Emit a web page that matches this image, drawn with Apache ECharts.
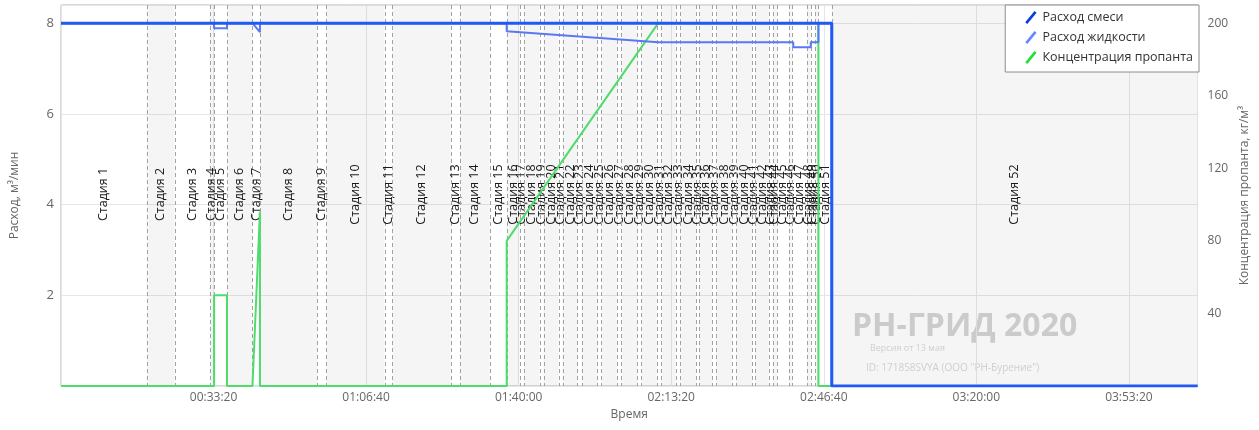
<!DOCTYPE html>
<html><head><meta charset="utf-8">
<script src="https://cdn.jsdelivr.net/npm/echarts@6/dist/echarts.min.js"></script>
<style>html,body{margin:0;padding:0;background:#fff}#c{width:1259px;height:430px}</style>
</head><body><div id="c"></div>
<script>
// Stage boundaries, seconds from start (52 stages)
const stageBounds = [0,1124,1490,1948,2007,2176,2510,2608,3359,3477,4242,4346,5111,5229,5621,5843,
  6013,6065,6275,6327,6523,6575,6771,6824,7033,7085,7294,7346,7556,7608,7817,7869,8065,8118,8327,8366,
  8536,8588,8797,8850,9059,9098,9281,9333,9386,9543,9582,9778,9830,9880,9930,10105,14900];
const stageNames = stageBounds.slice(1).map((_, i) => 'Стадия ' + (i + 1));
const seriesNames = ['Расход смеси', 'Расход жидкости', 'Концентрация пропанта'];
// [time s, value]
const slurryRate = [[0,8],[10105,8],[10105,0],[14900,0]];
const liquidRate = [[0,8],[2007,8],[2007,7.89],[2176,7.89],[2176,8],[2510,8],[2608,7.8],[2608,8],
  [5843,8],[5843,7.82],[7830,7.58],[9600,7.58],[9600,7.47],[9830,7.47],[9830,7.58],[9930,7.58],[9930,8],
  [10105,8],[10105,0],[14900,0]];
const proppantConc = [[0,0],[2007,0],[2007,50],[2176,50],[2176,0],[2510,0],[2608,96],[2608,0],
  [5843,0],[5843,80],[7830,200],[9930,200],[9930,0],[14900,0]];
const xTicks = [2000,4000,6000,8000,10000,12000,14000];
const leftTicks = [2,4,6,8];
const rightTicks = [40,80,120,160,200];

const FONT = '"Open Sans", "Noto Sans", sans-serif';
function hms(v){const h=Math.floor(v/3600),m=Math.floor(v%3600/60),s=Math.round(v%60);
  const p=n=>String(n).padStart(2,'0');return p(h)+':'+p(m)+':'+p(s);}

const stageData = stageNames.map((n,i)=>[stageBounds[i], stageBounds[i+1], i]);
const chart = echarts.init(document.getElementById('c'));
const slash = 'path://M0,11 L9,0 L11,1.6 L2,12.6 Z';
const legendColors = ['#0a3ce0','#6a86ff','#1fe03a'];
chart.setOption({
  animation:false,
  backgroundColor:'#fff',
  grid:{left:61,right:59,top:5,bottom:44,show:true,borderColor:'#b4b4b4',borderWidth:1,backgroundColor:'#fff'},
  legend:{
    data:seriesNames.map((n,i)=>({name:n, icon:slash, itemStyle:{color:legendColors[i], borderWidth:0}})),
    orient:'vertical', right:60, top:5,
    backgroundColor:'#fff', borderColor:'#8c8c8c', borderWidth:1,
    padding:[6,6,8,20], itemGap:7, itemWidth:13, itemHeight:13,
    textStyle:{fontFamily:FONT,fontSize:12.5,color:'#333'}
  },
  xAxis:{
    type:'value', min:0, max:14900, interval:2000,
    name:'Время', nameLocation:'middle', nameGap:23,
    nameTextStyle:{fontFamily:FONT,fontSize:12,color:'#666'},
    axisLine:{show:false}, axisTick:{show:false},
    axisLabel:{fontFamily:FONT,fontSize:12,color:'#666',margin:6,
      formatter:v=>xTicks.includes(v)?hms(v):''},
    splitLine:{show:true,lineStyle:{color:'#e6e6e6'}}
  },
  yAxis:[{
    type:'value', min:0, max:8.4, interval:2, position:'left',
    name:'Расход, м³/мин', nameLocation:'middle', nameGap:40, nameRotate:90,
    nameTextStyle:{fontFamily:FONT,fontSize:12,color:'#666'},
    axisLine:{show:false}, axisTick:{show:false},
    axisLabel:{fontFamily:FONT,fontSize:13,color:'#666',margin:7,
      formatter:v=>leftTicks.includes(v)?String(v):''},
    splitLine:{show:true,lineStyle:{color:'#e6e6e6'}}
  },{
    type:'value', min:0, max:210, interval:40, position:'right',
    name:'Концентрация пропанта, кг/м³', nameLocation:'middle', nameGap:40, nameRotate:90,
    nameTextStyle:{fontFamily:FONT,fontSize:12,color:'#666'},
    axisLine:{show:false}, axisTick:{show:false},
    axisLabel:{fontFamily:FONT,fontSize:12,color:'#666',margin:10,
      formatter:v=>rightTicks.includes(v)?String(v):''},
    splitLine:{show:false}
  }],
  graphic:[
    {type:'text', left:852, top:311, z:0, style:{text:'РН-ГРИД 2020', font:'bold 32px '+FONT, fill:'#d4d4d4'}},
    {type:'text', left:870, top:344, z:0, style:{text:'Версия от 13 мая', font:'9px '+FONT, fill:'#d8d8d8'}},
    {type:'text', left:866, top:363, z:0, style:{text:'ID: 171858SVYA (ООО "РН-Бурение")', font:'10px '+FONT, fill:'#d8d8d8'}}
  ],
  series:[
    {
      type:'custom', name:'stages', xAxisIndex:0, yAxisIndex:0, z:1, silent:true, clip:true,
      data:stageData,
      renderItem:function(params, api){
        const i = api.value(2);
        const a = api.coord([api.value(0), 0]);
        const b = api.coord([api.value(1), 0]);
        const cs = params.coordSys;
        const ch = [];
        if ((i+1)%2===0) ch.push({type:'rect', shape:{x:a[0], y:cs.y, width:b[0]-a[0], height:cs.height},
          style:{fill:'rgba(0,0,0,0.04)'}});
        if (i>0){const xx=Math.round(a[0])+0.5;
          ch.push({type:'line', shape:{x1:xx,y1:cs.y,x2:xx,y2:cs.y+cs.height},
          style:{stroke:'#a2a2a2',lineWidth:1,lineDash:[4,3]}});}
        ch.push({type:'text', x:(a[0]+b[0])/2, y:cs.y+cs.height/2-1, rotation:Math.PI/2,
          style:{text:stageNames[i], align:'center', verticalAlign:'middle', font:'12.5px '+FONT, fill:'#1a1a1a'}});
        return {type:'group', children:ch};
      }
    },
    {name:seriesNames[2], type:'line', yAxisIndex:1, data:proppantConc, showSymbol:false, symbol:'none', z:3,
      lineStyle:{color:'#4fdc6c',width:2}, itemStyle:{color:'#1fe03a'}},
    {name:seriesNames[1], type:'line', yAxisIndex:0, data:liquidRate, showSymbol:false, symbol:'none', z:4,
      lineStyle:{color:'#5a78f5',width:2}, itemStyle:{color:'#6a86ff'}},
    {name:seriesNames[0], type:'line', yAxisIndex:0, data:slurryRate, showSymbol:false, symbol:'none', z:5,
      lineStyle:{color:'#1f5af7',width:3}, itemStyle:{color:'#0a3ce0'}}
  ]
});
</script></body></html>
